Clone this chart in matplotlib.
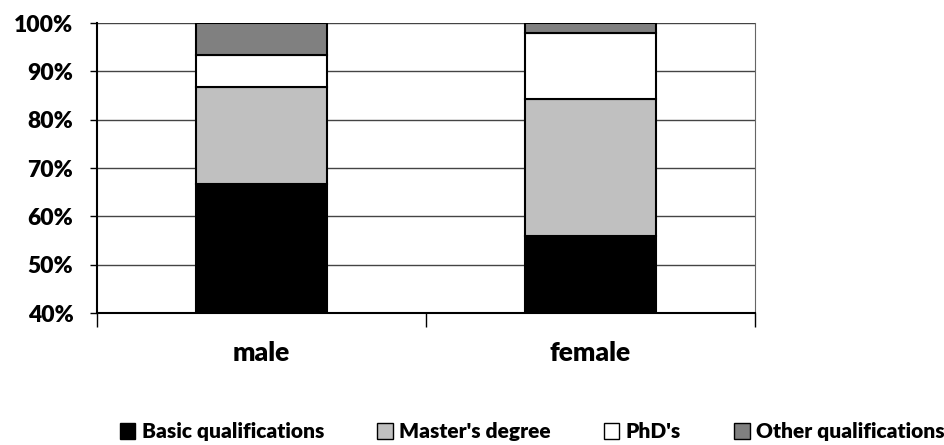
import matplotlib.pyplot as plt
from matplotlib.patches import Patch
from matplotlib.ticker import FuncFormatter

plt.rcParams['font.family'] = ['Lato', 'DejaVu Sans']
plt.rcParams['font.weight'] = 'heavy'

# shares of each gender (percent)
groups = ['male', 'female']
basic = [66.7, 55.9]
master = [20.0, 28.4]
phd = [6.6, 13.6]
other = [6.7, 2.1]

series = [('Basic qualifications', basic, '#000000'),
          ("Master's degree", master, '#c0c0c0'),
          ("PhD's", phd, '#ffffff'),
          ('Other qualifications', other, '#808080')]

fig = plt.figure(figsize=(9.45, 4.45), dpi=100)
ax = fig.add_axes([0.1026, 0.2966, 0.6963, 0.6517])

x = list(range(len(groups)))
bottom = [0, 0]
for name, vals, col in series:
    ax.bar(x, vals, width=0.4, bottom=bottom, color=col, edgecolor='black',
           linewidth=1.5, label=name, zorder=3)
    bottom = [b + v for b, v in zip(bottom, vals)]

ax.set_ylim(40, 100)
ax.set_xlim(-0.5, 1.5)
ax.set_yticks(range(40, 101, 10))
ax.yaxis.set_major_formatter(FuncFormatter(lambda v, p: f'{int(v)}%'))
ax.grid(axis='y', color='#444444', linewidth=1, zorder=0)

ax.set_xticks(x)
ax.set_xticklabels(groups, fontsize=19, fontweight='heavy')
ax.set_xticks([-0.5, 0.5, 1.5], minor=True)
ax.tick_params(axis='x', which='major', length=0, pad=20)
ax.tick_params(axis='x', which='minor', length=10, width=1, direction='out')
ax.tick_params(axis='y', length=5, width=1, labelsize=16.5, pad=12)
for lab in ax.get_yticklabels():
    lab.set_fontweight('heavy')

ax.spines['top'].set_visible(False)
ax.spines['right'].set_color('#666666')
ax.spines['left'].set_linewidth(1.5)
ax.spines['bottom'].set_linewidth(1.5)

handles = [Patch(facecolor=c, edgecolor='black', linewidth=1, label=n) for n, _, c in series]
fig.legend(handles=handles, loc='center', bbox_to_anchor=(0.563, 0.03), ncol=4,
           frameon=False, handlelength=0.75, handleheight=0.75,
           handletextpad=0.3, columnspacing=2.55, prop={'weight': 'heavy', 'size': 15})

fig.savefig('out.png', dpi=100)
